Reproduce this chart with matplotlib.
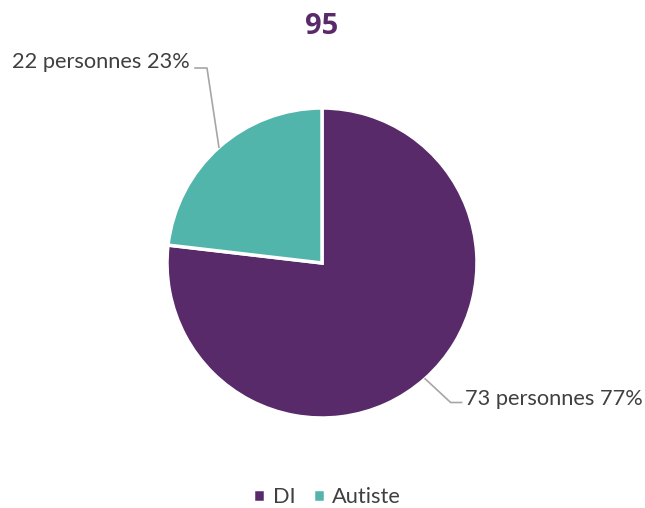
import matplotlib.pyplot as plt
import numpy as np

categories = ["DI", "Autiste"]
values = [73, 22]
total = 95
colors = ["#582A6A", "#52B5AC"]

plt.rcParams['font.family'] = ['Lato', 'DejaVu Sans']

fig = plt.figure(figsize=(6.45, 5.08), dpi=100)
# axes sized so the pie radius is 1 data unit
ax = fig.add_axes([167 / 645, 90 / 508, 310 / 645, 310 / 508])
wedges, _ = ax.pie(values, colors=colors, startangle=90, counterclock=False,
                   radius=1.0, wedgeprops=dict(edgecolor="white", linewidth=2.5))
ax.set_xlim(-1, 1)
ax.set_ylim(-1, 1)
ax.set_aspect("equal")
ax.axis("off")

pcts = [round(v / sum(values) * 100) for v in values]
textcolor = "#404040"
linecolor = "#A6A6A6"

# leader line and label per wedge
offsets = {
    0: dict(corner=(0.83, -0.90), end=(0.90, -0.90), text=(0.92, -0.875), ha="left"),
    1: dict(corner=(-0.742, 1.258), end=(-0.819, 1.258), text=(-0.85, 1.30), ha="right"),
}
for i, w in enumerate(wedges):
    ang = np.deg2rad((w.theta1 + w.theta2) / 2)
    x0, y0 = np.cos(ang), np.sin(ang)
    o = offsets[i]
    ax.plot([x0, o["corner"][0], o["end"][0]], [y0, o["corner"][1], o["end"][1]],
            color=linecolor, linewidth=1.2, clip_on=False)
    ax.text(o["text"][0], o["text"][1], f"{values[i]} personnes {pcts[i]}%",
            ha=o["ha"], va="center", fontsize=15.7, color=textcolor)

fig.text(322 / 645, 1 - 27 / 508, str(total), ha="center", va="center",
         fontsize=21, fontweight="bold", color="#582A6A", family=["Open Sans", "DejaVu Sans"])

leg = fig.legend(wedges, categories, loc="center", bbox_to_anchor=(327 / 645, 1 - 497 / 508),
                 ncol=2, frameon=False, fontsize=15.7, handlelength=0.55, handleheight=0.55,
                 handletextpad=0.35, columnspacing=0.8)
for t in leg.get_texts():
    t.set_color(textcolor)

fig.savefig("out.png", dpi=100)
